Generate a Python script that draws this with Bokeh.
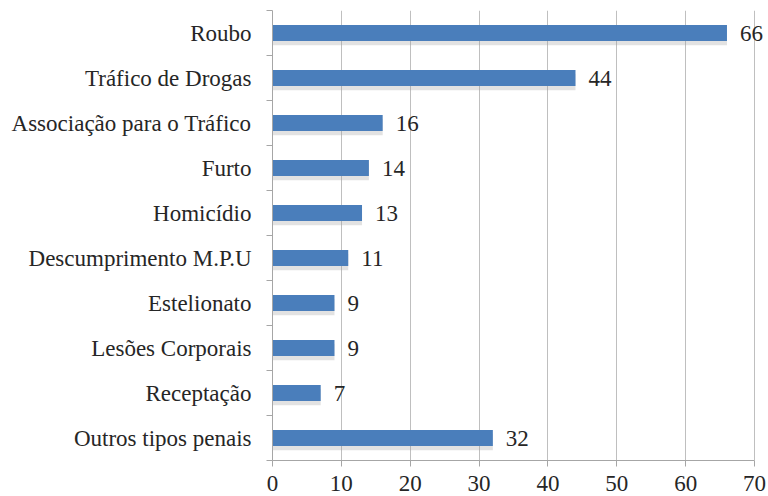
from bokeh.plotting import figure
from bokeh.models import FixedTicker, ColumnDataSource, Range1d, LabelSet
from bokeh.embed import file_html
from bokeh.resources import INLINE

categories = ["Roubo", "Tráfico de Drogas", "Associação para o Tráfico", "Furto",
              "Homicídio", "Descumprimento M.P.U", "Estelionato", "Lesões Corporais",
              "Receptação", "Outros tipos penais"]
counts = [66, 44, 16, 14, 13, 11, 9, 9, 7, 32]
x_ticks = [0, 10, 20, 30, 40, 50, 60, 70]

n = len(categories)
ypos = [n - 1 - i for i in range(n)]
src = ColumnDataSource(dict(y=ypos, x=counts, lab=[str(c) for c in counts],
                            ys=[y - 0.09 for y in ypos]))

FONT = "Liberation Serif"
p = figure(width=768, height=496, output_backend="svg", toolbar_location=None,
           x_range=Range1d(0, 72.03), y_range=Range1d(-0.5, n - 0.5),
           min_border_left=272, min_border_right=0, min_border_top=10, min_border_bottom=36)
p.outline_line_color = None
p.background_fill_color = "white"

# shadow
p.hbar(y="ys", right="x", left=0, height=0.36, source=src, fill_color="#a0a0a0",
       fill_alpha=0.3, line_color=None)
p.hbar(y="y", right="x", left=0, height=0.36, source=src, fill_color="#4A7EBB",
       line_color=None)
labels = LabelSet(x="x", y="y", text="lab", source=src, x_offset=13, text_baseline="middle",
                  text_align="left", text_font=FONT, text_font_size="23px",
                  text_color="#262626")
p.add_layout(labels)

p.xaxis.ticker = FixedTicker(ticks=x_ticks)
p.xaxis.bounds = (0, 70)
p.xgrid.ticker = FixedTicker(ticks=x_ticks[1:])
p.xgrid.grid_line_color = "#BFBFBF"
p.ygrid.grid_line_color = None
p.xaxis.axis_line_color = "#A6A6A6"
p.xaxis.major_tick_line_color = "#A6A6A6"
p.xaxis.major_tick_out = 6
p.xaxis.major_tick_in = 0
p.xaxis.minor_tick_line_color = None
p.xaxis.major_label_standoff = 9
p.xaxis.major_label_text_font = FONT
p.xaxis.major_label_text_font_size = "23px"
p.xaxis.major_label_text_color = "#262626"

p.yaxis.ticker = FixedTicker(ticks=ypos, minor_ticks=[v - 0.5 for v in range(n + 1)])
p.yaxis.major_label_overrides = {y: c for y, c in zip(ypos, categories)}
p.yaxis.axis_line_color = "#A6A6A6"
p.yaxis.major_tick_line_color = None
p.yaxis.major_tick_out = 0
p.yaxis.major_tick_in = 0
p.yaxis.minor_tick_line_color = "#A6A6A6"
p.yaxis.minor_tick_out = 6
p.yaxis.minor_tick_in = 0
p.yaxis.major_label_standoff = 15
p.yaxis.major_label_text_font = FONT
p.yaxis.major_label_text_font_size = "23px"
p.yaxis.major_label_text_color = "#262626"

open("out.html", "w").write(file_html(p, INLINE))
